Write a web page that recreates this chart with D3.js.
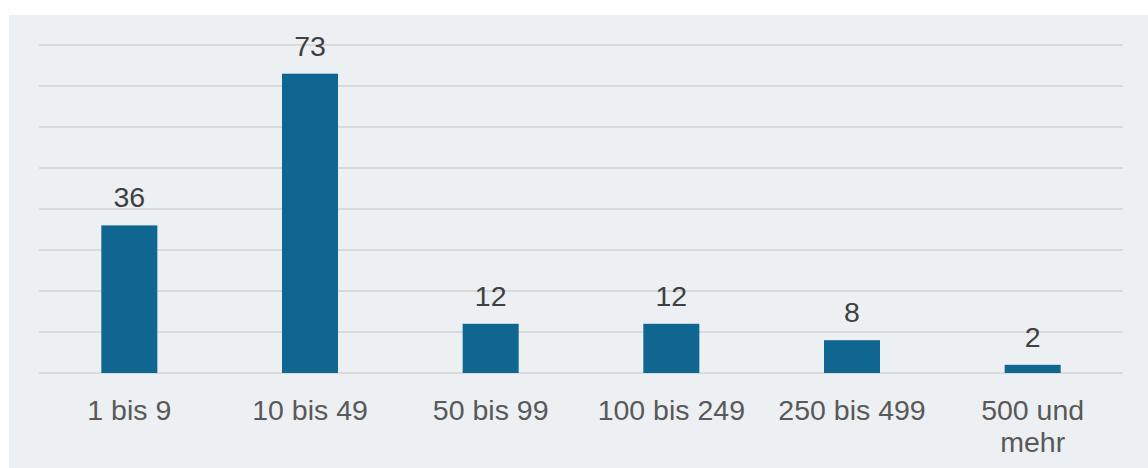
<!DOCTYPE html>
<html>
<head>
<meta charset="utf-8">
<style>
    body { margin: 0; background: #ffffff; }
    svg { display: block; font-family: "Liberation Sans", Arial, sans-serif; }
</style>
<script src="https://cdn.jsdelivr.net/npm/d3@7"></script>
</head>
<body>
<svg id="chart" width="1148" height="468"></svg>
<script>
    // data
    var categories = ["1 bis 9", "10 bis 49", "50 bis 99", "100 bis 249", "250 bis 499", "500 und mehr"];
    var values = [36, 73, 12, 12, 8, 2];
    var yTicks = [0, 10, 20, 30, 40, 50, 60, 70, 80];

    var svg = d3.select("#chart");

    // panel background
    svg.append("rect")
        .attr("x", 9).attr("y", 15)
        .attr("width", 1148 - 9).attr("height", 468 - 15)
        .attr("fill", "#edf0f3");

    var margin = { left: 39, right: 1123, top: 45, bottom: 373 };

    var x = d3.scaleBand()
        .domain(categories)
        .range([margin.left, margin.right])
        .paddingInner(0.69)
        .paddingOuter(0.345);

    var y = d3.scaleLinear()
        .domain([0, 80])
        .range([margin.bottom, margin.top]);

    // gridlines
    svg.append("g")
        .selectAll("line")
        .data(yTicks)
        .enter().append("line")
        .attr("x1", margin.left).attr("x2", margin.right)
        .attr("y1", function (d) { return y(d); })
        .attr("y2", function (d) { return y(d); })
        .attr("stroke", "#d9dadc")
        .attr("stroke-width", 2);

    // bars
    svg.append("g")
        .selectAll("rect")
        .data(values)
        .enter().append("rect")
        .attr("x", function (d, i) { return x(categories[i]); })
        .attr("y", function (d) { return y(d); })
        .attr("width", x.bandwidth())
        .attr("height", function (d) { return y(0) - y(d); })
        .attr("fill", "#0f6690");

    // value labels
    svg.append("g")
        .selectAll("text")
        .data(values)
        .enter().append("text")
        .attr("x", function (d, i) { return x(categories[i]) + x.bandwidth() / 2; })
        .attr("y", function (d) { return y(d) - 18; })
        .attr("text-anchor", "middle")
        .attr("font-size", "28.5px")
        .attr("fill", "#404040")
        .text(function (d) { return d; });

    // category labels (wrap "500 und mehr")
    var labels = svg.append("g")
        .selectAll("text")
        .data(categories)
        .enter().append("text")
        .attr("text-anchor", "middle")
        .attr("font-size", "28.5px")
        .attr("fill", "#595959");

    labels.each(function (d) {
        var t = d3.select(this);
        var cx = x(d) + x.bandwidth() / 2;
        var lines = d === "500 und mehr" ? ["500 und", "mehr"] : [d];
        lines.forEach(function (line, k) {
            t.append("tspan")
                .attr("x", cx)
                .attr("y", 420 + k * 32)
                .text(line);
        });
    });
</script>
</body>
</html>
